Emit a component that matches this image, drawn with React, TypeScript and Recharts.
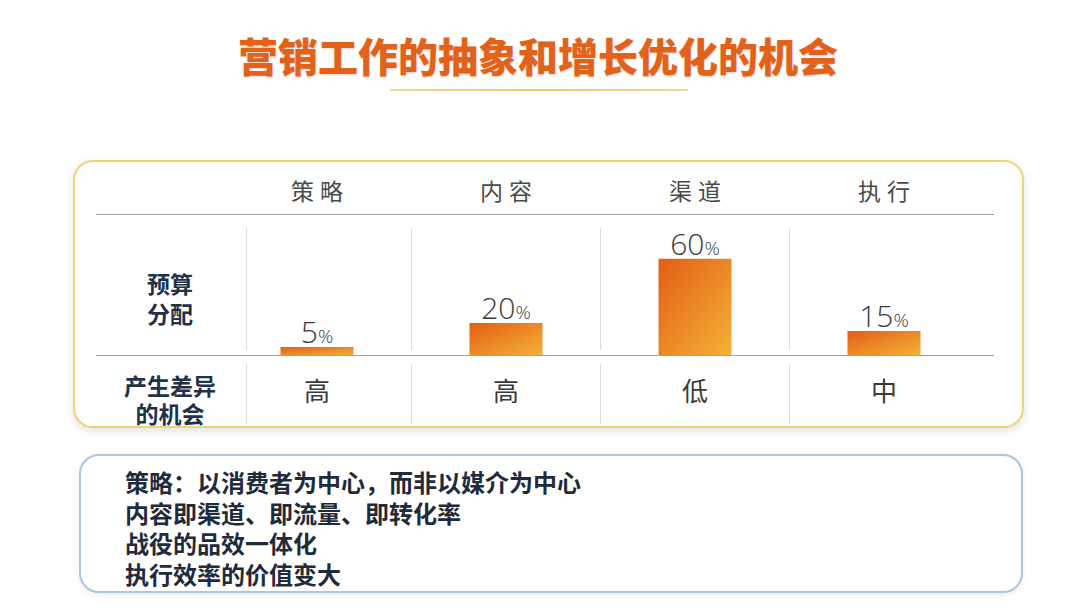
import React from 'react';
import { BarChart, Bar, XAxis, YAxis, LabelList } from 'recharts';

const categories = ['策略', '内容', '渠道', '执行'];
const budgetShare = [5, 20, 60, 15];
const diffLevels = ['高', '高', '低', '中'];
const notes = [
  '策略：以消费者为中心，而非以媒介为中心',
  '内容即渠道、即流量、即转化率',
  '战役的品效一体化',
  '执行效率的价值变大',
];

const data = categories.map((name, i) => ({ name, value: budgetShare[i], diff: diffLevels[i] }));

const CJK = '"Noto Sans CJK SC", "Noto Sans", sans-serif';

const TopTick = (props: any) => {
  const { x, y, payload } = props;
  return (
    <text x={x + 3} y={y - 24} textAnchor="middle" dominantBaseline="central" fill="#4a4a4a" fontSize={23} fontFamily={CJK} letterSpacing="6px">
      {payload.value}
    </text>
  );
};

const BottomTick = (props: any) => {
  const { x, y, index } = props;
  return (
    <text x={x} y={y + 34} textAnchor="middle" dominantBaseline="central" fill="#3a3a3a" fontSize={26} fontFamily={CJK}>
      {diffLevels[index]}
    </text>
  );
};

const ValueLabel = (props: any) => {
  const { x, y, width, value } = props;
  return (
    <text x={x + width / 2} y={y - 4} textAnchor="middle" fill="#3a3a3a" fontFamily='"Open Sans", sans-serif' fontWeight={300}>
      <tspan fontSize={30}>{value}</tspan>
      <tspan fontSize={19}>%</tspan>
    </text>
  );
};

const vLines = [246, 411, 600, 789];

const rowLabel = (text: string, top: number) => (
  <div key={text} style={{ position: 'absolute', left: 100, width: 140, top, textAlign: 'center', fontSize: 23, fontWeight: 700, color: '#1f3246', lineHeight: '26px', height: 26 }}>
    {text}
  </div>
);

export default function App() {
  return (
    <div style={{ position: 'fixed', left: 0, top: 0, width: 1080, height: 610, background: '#ffffff', overflow: 'hidden', fontFamily: CJK }}>
      {/* Title */}
      <div style={{ position: 'absolute', left: 0, width: 1076, top: 29, textAlign: 'center', fontSize: 40, fontWeight: 900, color: '#e2621c', lineHeight: '52px', textShadow: '0 1px 2px rgba(180,80,20,0.25)' }}>
        营销工作的抽象和增长优化的机会
      </div>
      <div style={{ position: 'absolute', left: 390, top: 89, width: 298, height: 2, background: 'linear-gradient(90deg, #edd89a, #e8c870, #edd89a)' }} />

      {/* Top box */}
      <div style={{ position: 'absolute', left: 73, top: 160, width: 947, height: 264, border: '2px solid #eed27c', borderRadius: 20, boxShadow: '0 3px 10px rgba(0,0,0,0.12)', background: '#fff' }} />
      {/* Bottom box */}
      <div style={{ position: 'absolute', left: 79, top: 454, width: 940, height: 135, border: '2px solid #abc6de', borderRadius: 20, boxShadow: '0 2px 6px rgba(0,0,0,0.08)', background: '#fff' }} />

      {/* Table lines */}
      <div style={{ position: 'absolute', left: 96, top: 214, width: 898, height: 1, background: '#9ea3a9' }} />
      <div style={{ position: 'absolute', left: 96, top: 355, width: 898, height: 1, background: '#9ea3a9' }} />
      {vLines.map((x) => (
        <React.Fragment key={x}>
          <div style={{ position: 'absolute', left: x, top: 228, width: 1, height: 122, background: '#dcdcdc' }} />
          <div style={{ position: 'absolute', left: x, top: 364, width: 1, height: 60, background: '#dcdcdc' }} />
        </React.Fragment>
      ))}

      {/* Row labels */}
      {rowLabel('预算', 270)}
      {rowLabel('分配', 300)}
      {rowLabel('产生差异', 372)}
      {rowLabel('的机会', 400)}

      {/* Chart */}
      <div style={{ position: 'absolute', left: 0, top: 0 }}>
        <BarChart width={1080} height={610} data={data} margin={{ top: 184, right: 101.5, bottom: 225, left: 222.5 }}>
          <defs>
            <linearGradient id="barGrad" x1="0" y1="0" x2="1" y2="1">
              <stop offset="0%" stopColor="#e35d16" />
              <stop offset="100%" stopColor="#f3b236" />
            </linearGradient>
          </defs>
          <YAxis hide domain={[0, 88]} />
          <XAxis dataKey="name" height={30} axisLine={false} tickLine={false} tickSize={0} tickMargin={0} tick={<BottomTick />} interval={0} />
          <XAxis xAxisId="top" dataKey="name" height={30} orientation="top" axisLine={false} tickLine={false} tickSize={0} tickMargin={0} tick={<TopTick />} interval={0} />
          <Bar dataKey="value" barSize={73} fill="url(#barGrad)" isAnimationActive={false}>
            <LabelList dataKey="value" content={<ValueLabel />} />
          </Bar>
        </BarChart>
      </div>

      {/* Notes */}
      <div style={{ position: 'absolute', left: 125, top: 467, fontSize: 24, fontWeight: 700, color: '#1f2b3a', lineHeight: '30.7px' }}>
        {notes.map((n) => (
          <div key={n}>{n}</div>
        ))}
      </div>
    </div>
  );
}
